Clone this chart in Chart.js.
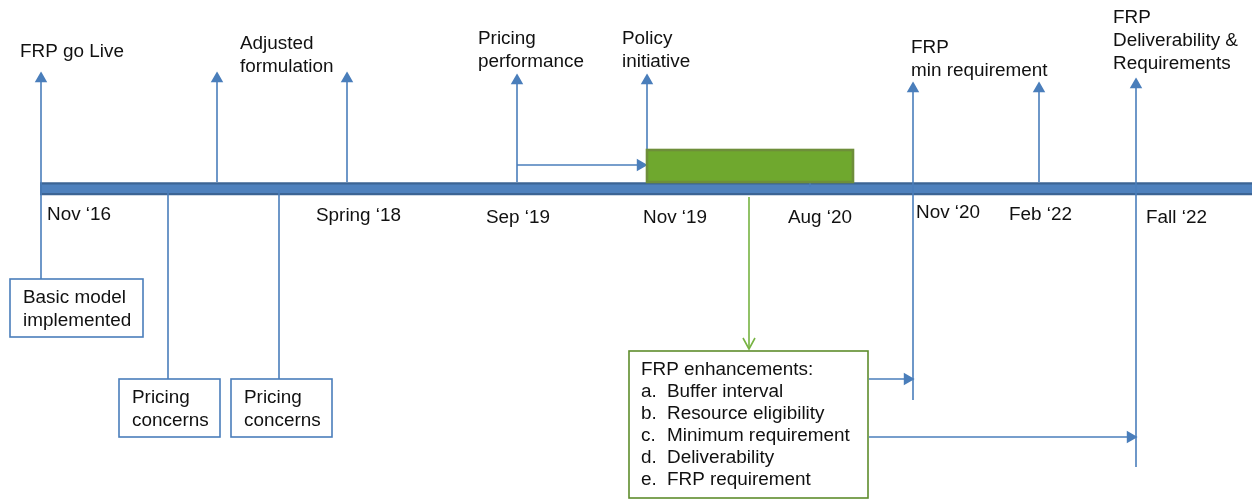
<!DOCTYPE html>
<html>
<head>
<meta charset="utf-8">
<script src="https://cdn.jsdelivr.net/npm/chart.js@4/dist/chart.umd.min.js"></script>
<style>
  html, body { margin: 0; padding: 0; background: #fff; }
  canvas { display: block; }
</style>
</head>
<body>
<canvas id="timeline" width="1252" height="500"></canvas>
<script>
// Timeline data (values on the diagram's own x / y scales)
const dateLabels = ['Nov ‘16', 'Spring ‘18', 'Sep ‘19', 'Nov ‘19', 'Aug ‘20', 'Nov ‘20', 'Feb ‘22', 'Fall ‘22'];
const dateX = [47, 316, 486, 643, 788, 916, 1009, 1146];
const dateY = [215, 216, 218, 218, 218, 213, 215, 218];

// events rising above the line
const riseX = [41, 217, 347, 517, 647, 913, 1039, 1136];
const riseFrom = [279, 182, 182, 182, 149, 400, 182, 467];
const riseTip = [73, 73, 73, 75, 75, 83, 83, 79];

const topLabels = [['FRP go Live'], ['Adjusted', 'formulation'], ['Pricing', 'performance'], ['Policy', 'initiative'], ['FRP', 'min requirement'], ['FRP', 'Deliverability &', 'Requirements']];
const topLabelX = [20, 240, 478, 622, 911, 1113];
const topLabelY = [52, 44, 39, 39, 48, 18];

// concerns hanging below the line
const dropX = [168, 279];
const dropTo = [379, 379];

// period of enhancements (Aug '20 tick sits under it)
const periodStart = 647;
const periodEnd = 853;
const augTick = 810;

// horizontal links
const linkFrom = [517, 869, 869];
const linkTo = [646, 913, 1136];
const linkY = [165, 379, 437];

const boxText = [['Basic model', 'implemented'], ['Pricing', 'concerns'], ['Pricing', 'concerns']];
const boxLeft = [10, 119, 231];
const boxRight = [143, 220, 332];
const boxTop = [279, 379, 379];
const boxBottom = [337, 437, 437];

const enhTitle = 'FRP enhancements:';
const enhLetters = ['a.', 'b.', 'c.', 'd.', 'e.'];
const enhItems = ['Buffer interval', 'Resource eligibility', 'Minimum requirement', 'Deliverability', 'FRP requirement'];

const BLUE = '#4a7ebb';
const FONT = '18.9px "Liberation Sans", Arial, sans-serif';
const ARROW_R = 5.6;

const datasets = [];

// rising arrows
riseX.forEach((x, i) => {
  datasets.push({
    data: [{ x: x, y: riseFrom[i] }, { x: x, y: riseTip[i] + ARROW_R }],
    borderColor: BLUE, backgroundColor: BLUE, borderWidth: 1.6,
    pointStyle: 'triangle', pointRadius: [0, ARROW_R], pointRotation: 0,
    showLine: true, order: 1
  });
});
// drops to concern boxes
dropX.forEach((x, i) => {
  datasets.push({
    data: [{ x: x, y: 190 }, { x: x, y: dropTo[i] }],
    borderColor: BLUE, borderWidth: 1.6, pointRadius: 0, showLine: true, order: 1
  });
});
// Aug '20 tick
datasets.push({
  data: [{ x: augTick, y: 182 }, { x: augTick, y: 187 }],
  borderColor: BLUE, borderWidth: 1.6, pointRadius: 0, showLine: true, order: 1
});
// horizontal links
linkFrom.forEach((x, i) => {
  datasets.push({
    data: [{ x: x, y: linkY[i] }, { x: linkTo[i] - ARROW_R, y: linkY[i] }],
    borderColor: BLUE, backgroundColor: BLUE, borderWidth: 1.6,
    pointStyle: 'triangle', pointRadius: [0, ARROW_R], pointRotation: 90,
    showLine: true, order: 1
  });
});
// green drop from the period to the enhancements box
datasets.push({
  data: [{ x: 749, y: 197 }, { x: 749, y: 349 }],
  borderColor: '#77b343', borderWidth: 1.6, pointRadius: 0, showLine: true, order: 1
});
// main timeline (outline + fill)
datasets.push({
  data: [{ x: 40, y: 188.7 }, { x: 1252, y: 188.7 }],
  borderColor: '#3c6494', borderWidth: 13, pointRadius: 0, showLine: true, borderCapStyle: 'butt', order: 10
});
datasets.push({
  data: [{ x: 42, y: 188.7 }, { x: 1252, y: 188.7 }],
  borderColor: '#4f81bd', borderWidth: 8.5, pointRadius: 0, showLine: true, borderCapStyle: 'butt', order: 9
});

const diagramPlugin = {
  id: 'diagram',
  afterDatasetsDraw(chart) {
    const ctx = chart.ctx;
    const sx = v => chart.scales.x.getPixelForValue(v);
    const sy = v => chart.scales.y.getPixelForValue(v);
    ctx.save();

    // period bar
    const gx = sx(periodStart), gy = sy(150);
    const gw = sx(periodEnd) - gx, gh = sy(182) - gy;
    ctx.fillStyle = '#6fa82e';
    ctx.fillRect(gx, gy, gw, gh);
    ctx.strokeStyle = '#6e8e3a';
    ctx.lineWidth = 2.6;
    ctx.strokeRect(gx, gy, gw, gh);

    // green chevron
    ctx.strokeStyle = '#77b343';
    ctx.lineWidth = 1.6;
    ctx.beginPath();
    ctx.moveTo(sx(743), sy(338));
    ctx.lineTo(sx(749), sy(349));
    ctx.lineTo(sx(755), sy(338));
    ctx.stroke();

    ctx.font = FONT;
    ctx.textBaseline = 'middle';
    ctx.textAlign = 'left';
    ctx.fillStyle = '#111';

    topLabels.forEach((lines, i) => {
      lines.forEach((t, j) => ctx.fillText(t, sx(topLabelX[i]), sy(topLabelY[i] + j * 23)));
    });
    dateLabels.forEach((t, i) => ctx.fillText(t, sx(dateX[i]), sy(dateY[i])));

    // blue boxes
    boxText.forEach((lines, i) => {
      const l = sx(boxLeft[i]), t = sy(boxTop[i]);
      const w = sx(boxRight[i]) - l, h = sy(boxBottom[i]) - t;
      ctx.fillStyle = '#fff';
      ctx.fillRect(l, t, w, h);
      ctx.strokeStyle = BLUE;
      ctx.lineWidth = 1.6;
      ctx.strokeRect(l, t, w, h);
      ctx.fillStyle = '#111';
      lines.forEach((s, j) => ctx.fillText(s, l + 13, t + 19 + j * 23));
    });

    // enhancements box
    const el = sx(629), et = sy(351);
    ctx.fillStyle = '#fff';
    ctx.fillRect(el, et, sx(868) - el, sy(498) - et);
    ctx.strokeStyle = '#5e8d2c';
    ctx.lineWidth = 1.6;
    ctx.strokeRect(el, et, sx(868) - el, sy(498) - et);
    ctx.fillStyle = '#111';
    ctx.fillText(enhTitle, sx(641), sy(370));
    enhItems.forEach((s, j) => {
      ctx.fillText(enhLetters[j], sx(641), sy(392 + j * 22));
      ctx.fillText(s, sx(667), sy(392 + j * 22));
    });

    ctx.restore();
  }
};

new Chart(document.getElementById('timeline'), {
  type: 'scatter',
  data: { datasets: datasets },
  options: {
    responsive: false,
    animation: false,
    events: [],
    layout: { padding: 0, autoPadding: false },
    plugins: { legend: { display: false }, tooltip: { enabled: false } },
    scales: {
      x: { type: 'linear', min: 0, max: 1252, display: false },
      y: { type: 'linear', min: 0, max: 500, reverse: true, display: false }
    },
    elements: { line: { tension: 0 } }
  },
  plugins: [diagramPlugin]
});
</script>
</body>
</html>
